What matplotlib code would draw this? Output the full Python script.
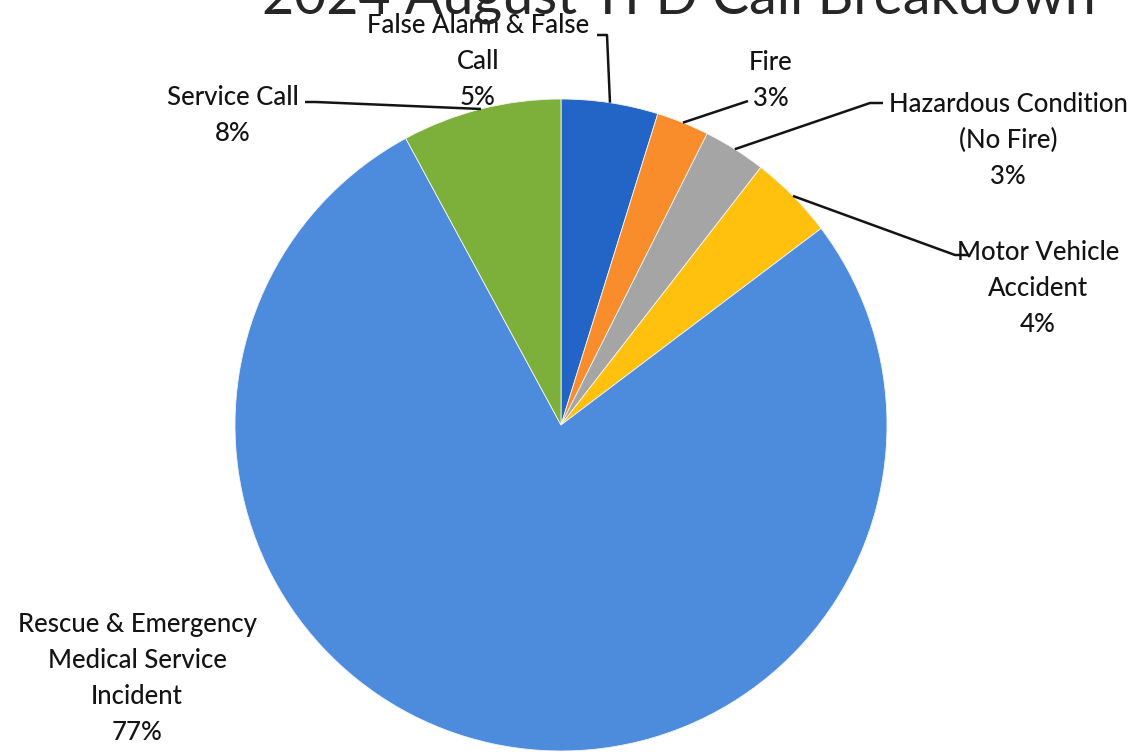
import numpy as np
import matplotlib
matplotlib.use("Agg")
import matplotlib.pyplot as plt

title = "2024 August TFD Call Breakdown"
categories = ["False Alarm & False\nCall", "Fire", "Hazardous Condition\n(No Fire)",
              "Motor Vehicle\nAccident", "Rescue & Emergency\nMedical Service\nIncident", "Service Call"]
values = [4.8, 2.6, 3.1, 4.2, 77.4, 7.9]
colors = ["#2365C6", "#F98C2B", "#A6A5A5", "#FFC10E", "#4D8BDC", "#7DAF3B"]

# label layout: (text x, first-line centre y) in pixel coords (y from top), leader elbow in px or None
label_pos = [(478, 23), (771, 60), (1008, 102), (1038, 250), (137, 622), (233, 95)]
elbows = [[(597, 35), (607, 35)], [(748, 101)], [(883, 103), (870, 103)],
          [(968, 255), (955, 255)], None, [(305, 102), (316, 102)]]

W, H = 1146, 756
fig = plt.figure(figsize=(W / 100, H / 100), dpi=100)
ax = fig.add_axes([0, 0, 1, 1])

cx, cy, r = 561, H - 425, 326
wedges, _ = ax.pie(values, colors=colors, startangle=90, counterclock=False,
                   center=(cx, cy), radius=r, frame=True,
                   wedgeprops=dict(linewidth=0.6, edgecolor="#f4f4f4"))
ax.set_xlim(0, W)
ax.set_ylim(0, H)
ax.set_aspect("equal")
ax.axis("off")

fs = 18.5
fam = ["Lato", "DejaVu Sans"]
step = 36  # px between lines
total = sum(values)

# title (cropped at the top like the reference)
fig.text(679 / W, 1 - 13 / H, title, ha="center", va="baseline", fontsize=40,
         family=fam, fontweight="normal", color="#262626", zorder=1)

for i, (w, cat, v) in enumerate(zip(wedges, categories, values)):
    pct = f"{round(v / total * 100):.0f}%"
    tx, ty = label_pos[i]
    lines = cat.split("\n") + [pct]
    for k, line in enumerate(lines):
        ax.text(tx, H - (ty + k * step), line, ha="center", va="center_baseline",
                fontsize=fs, family=fam, fontweight="medium", color="#141414", zorder=5)
    if elbows[i] is not None:
        ang = np.deg2rad((w.theta1 + w.theta2) / 2)
        ex, ey = cx + r * np.cos(ang), cy + r * np.sin(ang)
        pts = [(x, H - y) for x, y in elbows[i]] + [(ex, ey)]
        xs, ys = zip(*pts)
        ax.plot(xs, ys, color="#141414", lw=1.8, solid_capstyle="butt", zorder=4)

fig.savefig("out.png", dpi=100)
